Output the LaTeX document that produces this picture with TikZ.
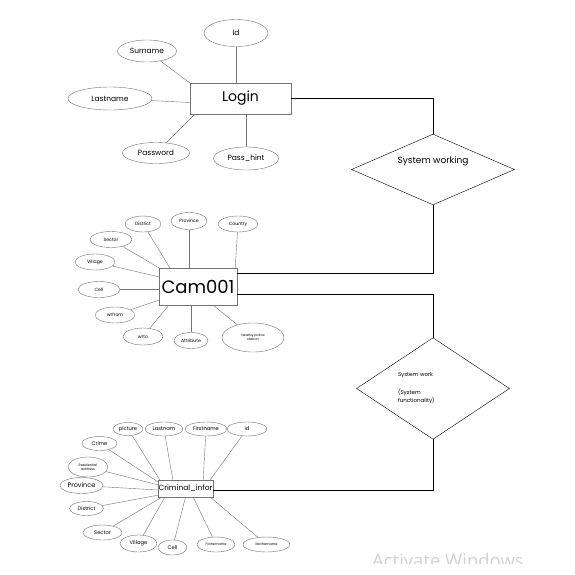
\documentclass[tikz,border=0pt]{standalone}
\usepackage{fontspec}
\setmainfont{Poppins}
\newfontfamily\wmfont{Open Sans}
\usetikzlibrary{shapes.geometric}

\begin{document}
\begin{tikzpicture}[
    x=1pt, y=-1pt,
    entity/.style={
        rectangle, draw=black!55, fill=white, inner sep=0pt
    },
    attr/.style={
        ellipse, draw=black!55, fill=white, inner sep=0pt, align=center
    },
    sz/.style 2 args={minimum width=#1, minimum height=#2},
    rel/.style={
        diamond, draw=black, fill=white, inner sep=0pt
    },
    link/.style={draw=black!55},
    conn/.style={draw=black, semithick},
    lfont/.style={font=\fontsize{7.5}{9}\selectfont},
    cfont/.style={font=\fontsize{4.6}{5.6}\selectfont},
    kfont/.style={font=\fontsize{5.2}{6}\selectfont},
    tfont/.style={font=\fontsize{3.4}{4.2}\selectfont}
]
\useasboundingbox (0,0) rectangle (575,574);

% ---------------- Login ----------------
\node[entity, sz={101pt}{31pt}, font=\fontsize{14}{16}\selectfont] (login) at (240.5,98.5) {Login};
\node[attr, lfont, sz={64pt}{27pt}] (l_id) at (236,33) {Id};
\node[attr, lfont, sz={59pt}{22pt}] (l_sur) at (147,51) {Surname};
\node[attr, lfont, sz={84pt}{23pt}] (l_last) at (110,98.5) {Lastname};
\node[attr, lfont, sz={67pt}{21pt}] (l_pass) at (156,153) {Password};
\node[attr, lfont, sz={65pt}{23pt}] (l_hint) at (246,158.5) {Pass\_hint};

\draw[link] (l_id.south) -- (l_id.south |- login.north);
\draw[link] (l_sur) -- (login.north west);
\draw[link] (l_last) -- ([yshift=-4pt]login.west);
\draw[link] (l_pass) -- ([xshift=5pt]login.south west);
\draw[link] (l_hint.north) -- (l_hint.north |- login.south);

% ---------------- Cam001 ----------------
\node[entity, sz={78pt}{37pt}, font=\fontsize{18}{20}\selectfont] (cam) at (198,286.5) {Cam001};
\node[attr, cfont, sz={36pt}{16pt}] (c_dist) at (143,224) {District};
\node[attr, cfont, sz={36pt}{17pt}] (c_prov) at (189,221) {Province};
\node[attr, cfont, sz={40pt}{16pt}] (c_country) at (238,224) {Country};
\node[attr, cfont, sz={42pt}{16pt}] (c_sector) at (111,239.5) {Sector};
\node[attr, cfont, sz={40pt}{16pt}] (c_village) at (95,262) {Village};
\node[attr, cfont, sz={42pt}{16pt}] (c_cell) at (99,289.5) {Cell};
\node[attr, cfont, sz={40pt}{16pt}] (c_from) at (115,315) {wrfrom};
\node[attr, cfont, sz={40pt}{17pt}] (c_to) at (143,336.5) {wrto};
\node[attr, cfont, sz={34pt}{16pt}] (c_attr) at (191,340.5) {Attribute};
\node[attr, tfont, sz={62pt}{29pt}] (c_police) at (253,337.5) {Nearby police\\station};

\draw[link] (c_dist) -- ([xshift=11pt]cam.north west);
\draw[link] (c_prov.south) -- (c_prov.south |- cam.north);
\draw[link] (c_country) -- ([xshift=-2pt]cam.north east);
\draw[link] (c_sector) -- (cam.north west);
\draw[link] (c_village) -- ([yshift=-9pt]cam.north west);
\draw[link] (c_cell.east) -- (c_cell.east -| cam.west);
\draw[link] (c_from) -- ([yshift=5pt]cam.south west);
\draw[link] (c_to) -- ([xshift=10pt]cam.south west);
\draw[link] (c_attr.north) -- (c_attr.north |- cam.south);
\draw[link] (c_police) -- ([xshift=-24pt]cam.south east);

% ---------------- Criminal_infor ----------------
\node[entity, sz={55pt}{17pt}, font=\fontsize{7.5}{9}\selectfont] (crim) at (185.5,488.5) {Criminal\_infor};
\node[attr, kfont, sz={30pt}{13pt}] (k_pic) at (128,429) {picture};
\node[attr, kfont, sz={38pt}{14pt}] (k_last) at (164,429) {Lastnam};
\node[attr, kfont, sz={42pt}{14pt}] (k_first) at (206,429) {Firstname};
\node[attr, kfont, sz={40pt}{14pt}] (k_id) at (247,429) {Id};
\node[attr, kfont, sz={35pt}{14pt}] (k_crime) at (99.5,443.5) {Crime};
\node[attr, tfont, sz={40pt}{20pt}] (k_res) at (88,467) {Residential\\address};
\node[attr, font=\fontsize{6.5}{8}\selectfont, sz={43pt}{16pt}] (k_prov) at (81.5,485.5) {Province};
\node[attr, kfont, sz={34pt}{14pt}] (k_dist) at (86.5,508.5) {District};
\node[attr, kfont, sz={39pt}{15pt}] (k_sector) at (102.5,532.5) {Sector};
\node[attr, kfont, sz={37pt}{17pt}] (k_village) at (138.5,543.5) {Village};
\node[attr, kfont, sz={29pt}{15pt}] (k_cell) at (172.5,547.5) {Cell};
\node[attr, tfont, sz={38pt}{15pt}] (k_father) at (216,544.5) {Fathername};
\node[attr, tfont, sz={47pt}{15pt}] (k_mother) at (266.5,544.5) {Mothername};

\draw[link] (k_pic) -- ([xshift=2pt]crim.north west);
\draw[link] (k_last) -- ([xshift=15pt]crim.north west);
\draw[link] (k_first) -- ([xshift=-10pt]crim.north east);
\draw[link] (k_id) -- ([xshift=-3pt]crim.north east);
\draw[link] (k_crime) -- ([yshift=-2pt]crim.north west);
\draw[link] (k_res) -- ([yshift=-5pt]crim.north west);
\draw[link] (k_prov) -- ([yshift=-1.5pt]crim.west);
\draw[link] (k_dist) -- ([yshift=2pt]crim.south west);
\draw[link] (k_sector) -- ([xshift=4pt]crim.south west);
\draw[link] (k_village) -- ([xshift=7pt]crim.south west);
\draw[link] (k_cell) -- (crim.south);
\draw[link] (k_father) -- ([xshift=-20pt]crim.south east);
\draw[link] (k_mother) -- ([xshift=-3pt]crim.south east);

% ---------------- Relationships ----------------
\node[rel, sz={163pt}{69pt}, font=\fontsize{9}{10}\selectfont] (sw) at (433,169.5) {\raisebox{6pt}[0pt][0pt]{System working}};
\node[rel, sz={153pt}{73pt}, font=\fontsize{5.5}{8}\selectfont, align=left, text width=70pt] (sf) at (433,388.5) {System work\\[10pt](System\\functionality)};

\draw[conn] (login.east) -| (sw.north);
\draw[conn] (sw.south) |- ([yshift=13.5pt]cam.east);
\draw[conn] ([yshift=-7.5pt]cam.east) -| (sf.north);
\draw[conn] (sf.south) |- ([yshift=-2pt]crim.east);

% watermark, cut off at the lower edge
\begin{scope}
\clip (0,0) rectangle (575,563);
\node[anchor=north west, inner sep=0pt, text=black!18, font=\wmfont\fontsize{18.5}{20}\selectfont] (wm) at (372,553) {Activate Windows};
\end{scope}
\end{tikzpicture}
\end{document}
